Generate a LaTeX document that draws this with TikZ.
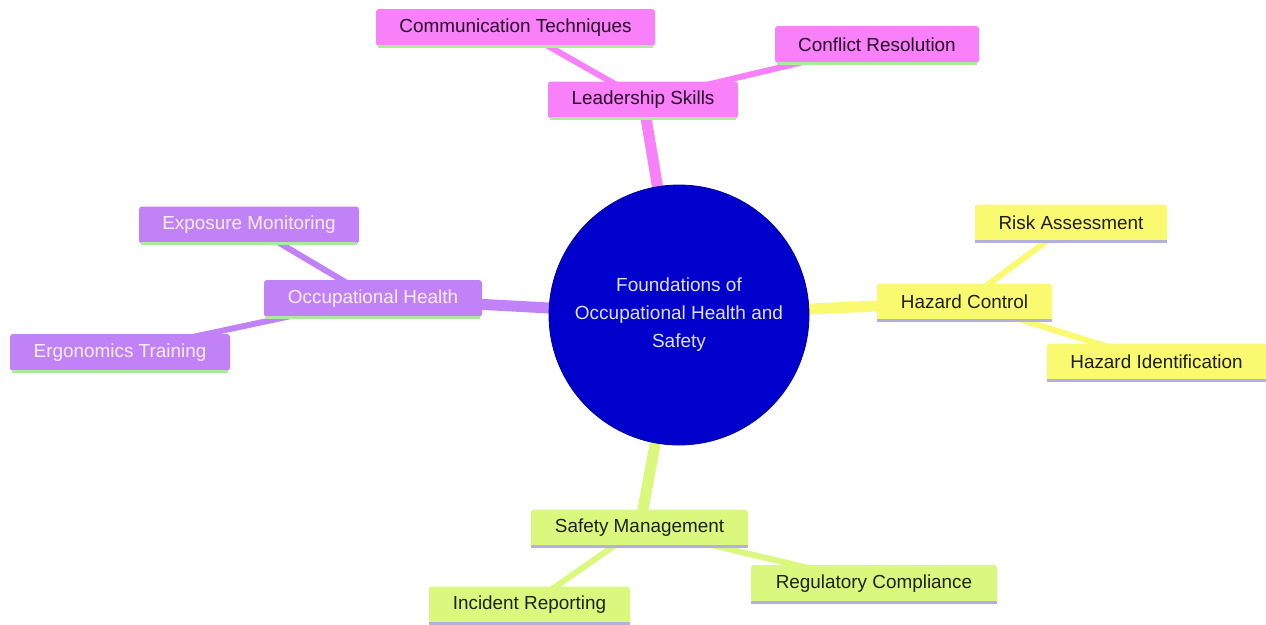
\documentclass[tikz,border=0pt]{standalone}
\usepackage{fontspec}
\setmainfont{Liberation Sans}
\usetikzlibrary{backgrounds}
\definecolor{pinkfill}{RGB}{248,128,248}
\definecolor{pinktext}{RGB}{40,10,40}
\definecolor{purpfill}{RGB}{194,130,247}
\definecolor{purptext}{RGB}{246,238,252}
\definecolor{yelfill}{RGB}{250,250,112}
\definecolor{yeltext}{RGB}{30,30,20}
\definecolor{grnfill}{RGB}{218,248,125}
\definecolor{grntext}{RGB}{30,35,25}
\definecolor{lgreenline}{RGB}{170,235,160}
\definecolor{lavline}{RGB}{180,175,225}
\definecolor{rootfill}{RGB}{0,0,204}
\definecolor{roottext}{RGB}{225,225,250}
\begin{document}
\begin{tikzpicture}[x=1pt,y=-1pt,
  box/.style={rectangle, rounded corners=3pt, inner xsep=0pt, inner ysep=0pt,
    minimum height=37pt, font=\fontsize{18.9}{23}\selectfont},
  pinkbox/.style={box, fill=pinkfill, text=pinktext},
  purpbox/.style={box, fill=purpfill, text=purptext},
  yelbox/.style={box, fill=yelfill, text=yeltext},
  grnbox/.style={box, fill=grnfill, text=grntext},
  rootedge/.style={line width=11pt},
  childedge/.style={line width=6pt},
  underline/.style={line width=3pt}]
\useasboundingbox (0,0) rectangle (1266,624);
% root
\node[circle, fill=rootfill, draw=rootfill!80!black, line width=0.8pt, minimum size=260pt,
  text=roottext, align=center, font=\fontsize{19}{28}\selectfont] (root) at (679,315)
  {Foundations of\\Occupational Health and\\Safety};
% pink
\node[pinkbox, minimum width=279pt] (comm) at (515.5,27.5) {Communication Techniques};
\node[pinkbox, minimum width=204pt] (conf) at (877,44.5) {Conflict Resolution};
\node[pinkbox, minimum width=190pt] (lead) at (643,100) {Leadership Skills};
% purple
\node[purpbox, minimum width=220pt] (expo) at (249,225) {Exposure Monitoring};
\node[purpbox, minimum width=218pt] (occ) at (373,298.5) {Occupational Health};
\node[purpbox, minimum width=220pt] (ergo) at (120,352.5) {Ergonomics Training};
% yellow
\node[yelbox, minimum width=192pt] (risk) at (1071,223) {Risk Assessment};
\node[yelbox, minimum width=175pt] (hazc) at (964.5,302) {Hazard Control};
\node[yelbox, minimum width=219pt] (hazi) at (1156.5,362) {Hazard Identification};
% green
\node[grnbox, minimum width=217pt] (safe) at (639.5,528) {Safety Management};
\node[grnbox, minimum width=246pt] (regu) at (874,583.5) {Regulatory Compliance};
\node[grnbox, minimum width=201pt] (inci) at (529.5,605) {Incident Reporting};
% underlines
\foreach \n in {comm,conf,lead,expo,occ,ergo}
  \draw[underline, lgreenline] ([xshift=2pt]\n.south west) -- ([xshift=-2pt]\n.south east);
\foreach \n in {risk,hazc,hazi,safe,regu,inci}
  \draw[underline, lavline] (\n.south west) -- (\n.south east);
\begin{pgfonlayer}{background}
  \draw[rootedge, pinkfill] (root.center) -- (lead.center);
  \draw[rootedge, purpfill] (root.center) -- (occ.center);
  \draw[rootedge, yelfill] (root.center) -- (hazc.center);
  \draw[rootedge, grnfill] (root.center) -- (safe.center);
  \draw[childedge, pinkfill] (lead.center) -- (comm.center);
  \draw[childedge, pinkfill] (lead.center) -- (conf.center);
  \draw[childedge, purpfill] (occ.center) -- (expo.center);
  \draw[childedge, purpfill] (occ.center) -- (ergo.center);
  \draw[childedge, yelfill] (hazc.center) -- (risk.center);
  \draw[childedge, yelfill] (hazc.center) -- (hazi.center);
  \draw[childedge, grnfill] (safe.center) -- (regu.center);
  \draw[childedge, grnfill] (safe.center) -- (inci.center);
\end{pgfonlayer}
\end{tikzpicture}
\end{document}
